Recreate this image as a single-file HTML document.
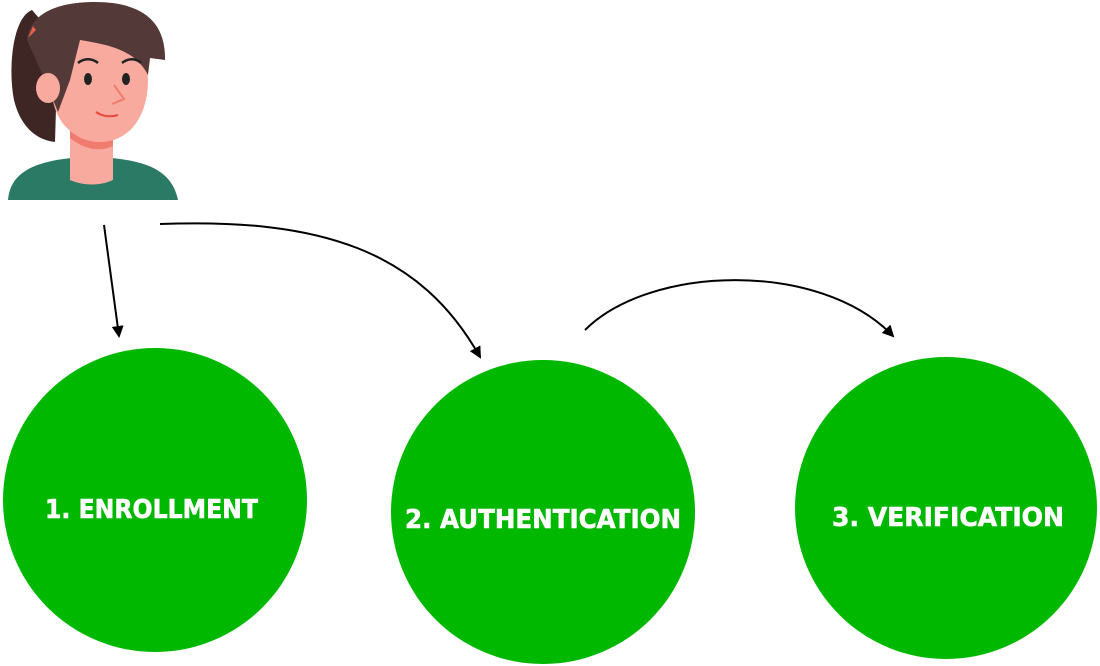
<!DOCTYPE html>
<html><head><style>html,body{margin:0;padding:0;background:#fff;width:1100px;height:666px;overflow:hidden}</style></head>
<body>
<svg width="1100" height="666" viewBox="0 0 1100 666" xmlns="http://www.w3.org/2000/svg">
<defs>
<marker id="ah" markerWidth="12" markerHeight="12" refX="10" refY="6" orient="auto" markerUnits="userSpaceOnUse">
<path d="M0,0 L12,6 L0,12 Z" fill="#000"/>
</marker>
</defs>
<!-- avatar -->
<path d="M8,200 C10,175 30,162 72,158 L112,158 C150,162 172,172 178,200 Z" fill="#2a7a66"/>
<path d="M70,125 L113,125 L113,180 C100,186 84,186 70,180 Z" fill="#f9aa9f"/>
<path d="M70,138 C85,150 100,152 113,146 L113,132 L70,130 Z" fill="#ef7c6e"/>
<path d="M32,10 C12,18 8,70 14,100 C20,125 35,140 55,142 L58,40 Z" fill="#3e2624"/>
<path d="M52,60 C52,30 80,40 100,38 C130,36 148,50 148,80 C148,118 128,142 100,142 C72,142 52,118 52,90 Z" fill="#f9aa9f"/>
<path d="M27,40 C30,12 60,2 95,2 C140,2 166,20 165,60 L150,58 L148,75 C135,50 110,45 80,40 L70,80 L58,112 L45,80 Z" fill="#533a38"/>
<ellipse cx="48" cy="88" rx="12" ry="15" fill="#f9aa9f"/>
<path d="M28,38 L33,26 L36,30 Z" fill="#e8604a"/>
<ellipse cx="88" cy="79" rx="4" ry="6" fill="#222"/>
<ellipse cx="126" cy="79" rx="4" ry="6" fill="#222"/>
<path d="M78,63 C84,58 92,58 98,63 M122,63 C128,58 136,58 141,63" stroke="#222" stroke-width="2.5" fill="none"/>
<path d="M114,85 L124,99 L112,104" stroke="#ef7c6e" stroke-width="2" fill="none"/>
<path d="M96,112 C103,117 112,117 118,115" stroke="#e84a40" stroke-width="2" fill="none"/>
<!-- arrows -->
<g stroke="#000" stroke-width="2" fill="none" marker-end="url(#ah)">
<path d="M104,225 L119,336"/>
<path d="M160,224 C320,218 420,250 480,357"/>
<path d="M585,330 C650,265 820,260 893,336"/>
</g>
<!-- circles -->
<circle cx="155" cy="500" r="152" fill="#00b800"/>
<circle cx="543" cy="512" r="152" fill="#00b800"/>
<circle cx="946" cy="508" r="151" fill="#00b800"/>
<g fill="#fff" stroke="#fff" stroke-width="0.6" font-family="DejaVu Sans, Liberation Sans, sans-serif" font-weight="bold" font-size="26">
<text x="45" y="518" textLength="213" lengthAdjust="spacingAndGlyphs">1. ENROLLMENT</text>
<text x="405" y="528" textLength="276" lengthAdjust="spacingAndGlyphs">2. AUTHENTICATION</text>
<text x="832" y="526" textLength="232" lengthAdjust="spacingAndGlyphs">3. VERIFICATION</text>
</g>
</svg>
</body></html>
